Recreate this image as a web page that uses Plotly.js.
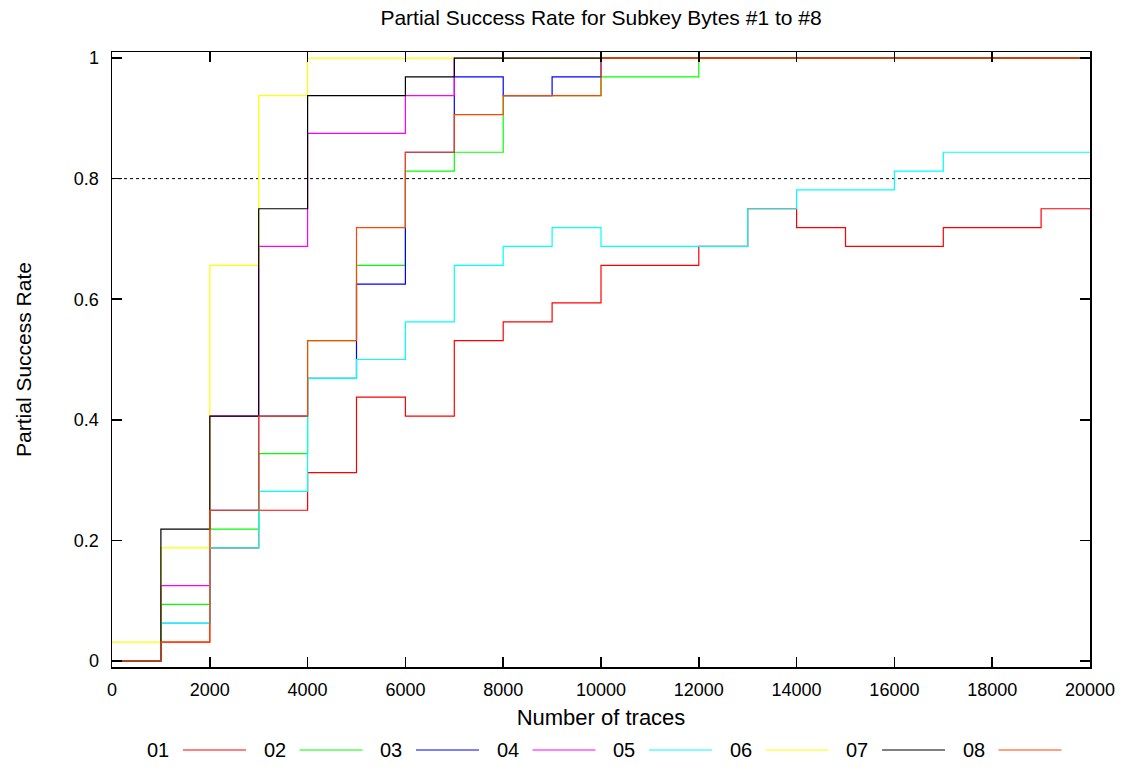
<!DOCTYPE html>
<html>
<head>
<meta charset="utf-8">
<script src="https://cdn.plot.ly/plotly-3.0.1.min.js"></script>
<style>
  html, body { margin: 0; padding: 0; background: #fff; }
  #chart { width: 1134px; height: 771px; }
</style>
</head>
<body>
<div id="chart"></div>
<script>
// Number of traces at which the success rate was evaluated
const traceCounts = [0, 1000, 2000, 3000, 4000, 5000, 6000, 7000, 8000, 9000, 10000,
  11000, 12000, 13000, 14000, 15000, 16000, 17000, 18000, 19000, 20000];

// Partial success rate per subkey byte
const byte01 = [0, 0.03125, 0.1875, 0.25, 0.3125, 0.4375, 0.40625, 0.53125, 0.5625, 0.59375, 0.65625,
  0.65625, 0.6875, 0.75, 0.71875, 0.6875, 0.6875, 0.71875, 0.71875, 0.75, 0.75];
const byte02 = [0, 0.09375, 0.21875, 0.34375, 0.53125, 0.65625, 0.8125, 0.84375, 0.9375, 0.9375, 0.96875,
  0.96875, 1, 1, 1, 1, 1, 1, 1, 1, 1];
const byte03 = [0, 0.0625, 0.25, 0.40625, 0.46875, 0.625, 0.84375, 0.96875, 0.9375, 0.96875, 1,
  1, 1, 1, 1, 1, 1, 1, 1, 1, 1];
const byte04 = [0, 0.125, 0.40625, 0.6875, 0.875, 0.875, 0.9375, 1, 1, 1, 1,
  1, 1, 1, 1, 1, 1, 1, 1, 1, 1];
const byte05 = [0, 0.0625, 0.1875, 0.28125, 0.46875, 0.5, 0.5625, 0.65625, 0.6875, 0.71875, 0.6875,
  0.6875, 0.6875, 0.75, 0.78125, 0.78125, 0.8125, 0.84375, 0.84375, 0.84375, 0.84375];
const byte06 = [0.03125, 0.1875, 0.65625, 0.9375, 1, 1, 1, 1, 1, 1, 1,
  1, 1, 1, 1, 1, 1, 1, 1, 1, 1];
const byte07 = [0, 0.21875, 0.40625, 0.75, 0.9375, 0.9375, 0.96875, 1, 1, 1, 1,
  1, 1, 1, 1, 1, 1, 1, 1, 1, 1];
const byte08 = [0, 0.03125, 0.25, 0.40625, 0.53125, 0.71875, 0.84375, 0.90625, 0.9375, 0.9375, 1,
  1, 1, 1, 1, 1, 1, 1, 1, 1, 1];

const seriesNames = ['01', '02', '03', '04', '05', '06', '07', '08'];
const seriesValues = [byte01, byte02, byte03, byte04, byte05, byte06, byte07, byte08];
const seriesColors = ['#ff0000', '#00ff00', '#0000ff', '#ff00ff', '#00ffff', '#ffff00', '#000000', '#ff4500'];

// Target rate drawn as a dotted guide
const targetRate = 0.8;

const yTickVals = [0, 0.2, 0.4, 0.6, 0.8, 1];
const yTickText = ['0', '0.2', '0.4', '0.6', '0.8', '1'];
const xTickVals = [0, 2000, 4000, 6000, 8000, 10000, 12000, 14000, 16000, 18000, 20000];

const FONT = 'Liberation Sans, Arial, sans-serif';

const traces = seriesValues.map((vals, i) => ({
  type: 'scatter',
  mode: 'lines',
  name: seriesNames[i],
  x: traceCounts,
  y: vals,
  line: { color: seriesColors[i], width: 1.2, shape: 'hv' },
  showlegend: false,
  hoverinfo: 'x+y+name'
}));

// Plot box geometry (pixels) used for the bottom key
const W = 1134, H = 771;
const margin = { l: 112, r: 44, t: 52, b: 104 };
const plotW = W - margin.l - margin.r;
const plotH = H - margin.t - margin.b;
const toPaperX = px => (px - margin.l) / plotW;
const toPaperY = py => (H - margin.b - py) / plotH;

// Key below the axis: label first, then a sample of the line
const keyY = 750, keyStep = 116.5;
const annotations = [];
const shapes = [{
  type: 'line', xref: 'x', yref: 'y',
  x0: traceCounts[0], x1: traceCounts[traceCounts.length - 1], y0: targetRate, y1: targetRate,
  line: { color: '#000', width: 1, dash: 'dot' }, layer: 'below'
}];
seriesNames.forEach((name, i) => {
  annotations.push({
    xref: 'paper', yref: 'paper',
    x: toPaperX(158 + keyStep * i), y: toPaperY(keyY),
    xanchor: 'center', yanchor: 'middle',
    text: name, showarrow: false,
    font: { family: FONT, size: 20, color: '#000' }
  });
  shapes.push({
    type: 'line', xref: 'paper', yref: 'paper',
    x0: toPaperX(183 + keyStep * i), x1: toPaperX(246 + keyStep * i),
    y0: toPaperY(keyY), y1: toPaperY(keyY),
    line: { color: seriesColors[i], width: 1.2 }
  });
});

const axisCommon = {
  showline: true, linecolor: '#000', linewidth: 1.5,
  mirror: 'ticks', ticks: 'inside', ticklen: 10, tickwidth: 1.5, tickcolor: '#000',
  showgrid: false, zeroline: false,
  tickfont: { family: FONT, size: 18, color: '#000' }
};

const layout = {
  width: W, height: H,
  margin: margin,
  paper_bgcolor: '#fff', plot_bgcolor: '#fff',
  font: { family: FONT, color: '#000' },
  title: {
    text: 'Partial Success Rate for Subkey Bytes #1 to #8',
    x: 0.5, xref: 'paper', y: 1 - 18 / H, yref: 'container', yanchor: 'middle',
    font: { family: FONT, size: 21, color: '#000' }
  },
  xaxis: Object.assign({}, axisCommon, {
    range: [0, 20000],
    tickvals: xTickVals, tickformat: 'd',
    ticklabelstandoff: 6,
    title: { text: 'Number of traces', standoff: 10, font: { family: FONT, size: 22, color: '#000' } }
  }),
  yaxis: Object.assign({}, axisCommon, {
    range: [-0.01, 1.01],
    tickvals: yTickVals, ticktext: yTickText,
    ticklabelstandoff: 8,
    title: { text: 'Partial Success Rate', standoff: 36, font: { family: FONT, size: 21, color: '#000' } }
  }),
  shapes: shapes,
  annotations: annotations
};

Plotly.newPlot('chart', traces, layout, { displayModeBar: false, staticPlot: true });
</script>
</body>
</html>
